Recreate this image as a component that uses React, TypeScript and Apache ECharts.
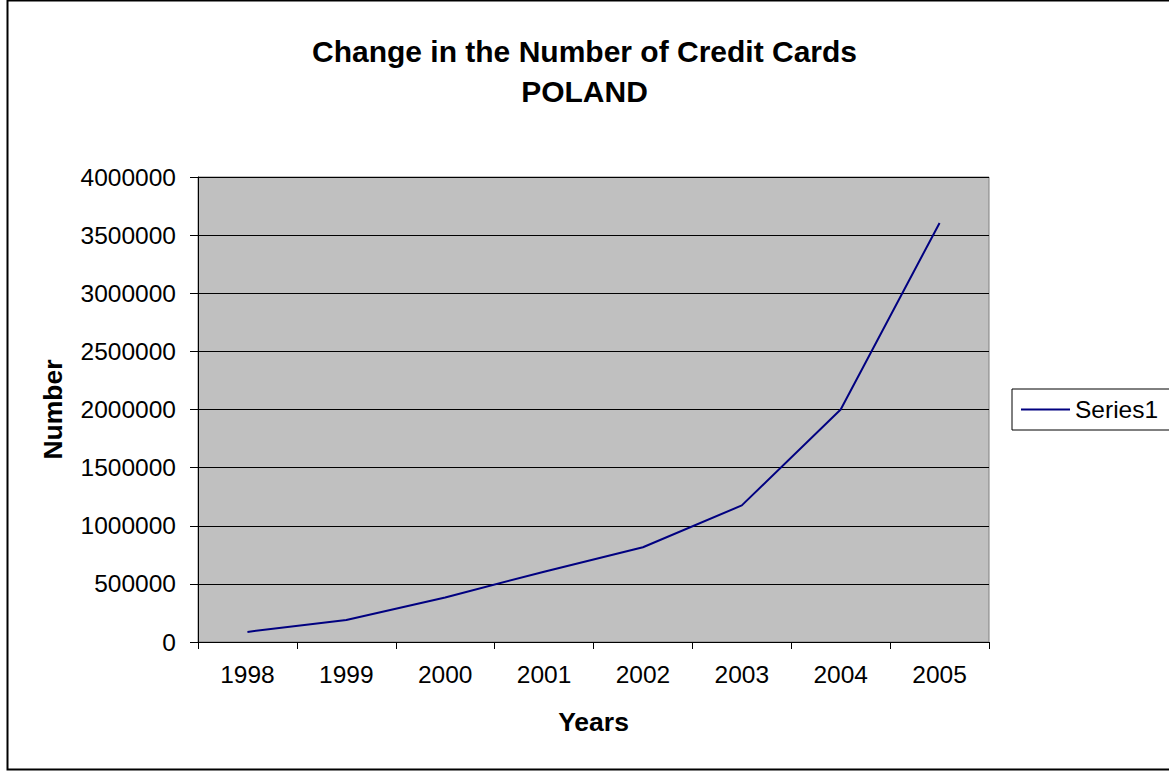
import React, { useEffect, useRef } from "react";
import * as echarts from "echarts";

const years = ["1998", "1999", "2000", "2001", "2002", "2003", "2004", "2005"];
const cards = [87000, 190000, 383000, 605000, 815000, 1175000, 2000000, 3605000];
const titleText = "Change in the Number of Credit Cards\nPOLAND";
const seriesName = "Series1";
const FONT = "'Liberation Sans', Arial, sans-serif";

export default function App() {
  const ref = useRef<HTMLDivElement>(null);
  useEffect(() => {
    if (!ref.current) return;
    const chart = echarts.init(ref.current, null, { renderer: "svg" });
    chart.setOption({
      animation: false,
      backgroundColor: "#ffffff",
      textStyle: { fontFamily: FONT },
      title: {
        text: titleText,
        left: "center",
        top: 31,
        padding: [0, 0, 0, 18],
        textStyle: { fontSize: 30, fontWeight: "bold", color: "#000", lineHeight: 40, fontFamily: FONT },
      },
      legend: {
        left: 1012,
        top: 389,
        orient: "vertical",
        padding: [6, 30, 6, 9],
        borderColor: "#000",
        borderWidth: 1,
        icon: "rect",
        itemWidth: 49,
        itemHeight: 2,
        itemGap: 0,
        textStyle: { fontSize: 24.5, color: "#000", lineHeight: 29, fontFamily: FONT },
        data: [seriesName],
      },
      grid: {
        left: 198,
        top: 177,
        width: 791,
        height: 465,
        show: true,
        backgroundColor: "#C0C0C0",
        borderColor: "#808080",
        borderWidth: 1,
      },
      xAxis: {
        type: "category",
        data: years,
        boundaryGap: true,
        name: "Years",
        nameLocation: "middle",
        nameGap: 66,
        nameTextStyle: { fontSize: 26.5, fontWeight: "bold", color: "#000", fontFamily: FONT },
        axisLine: { lineStyle: { color: "#000", width: 1 } },
        axisTick: { show: true, length: 7, lineStyle: { color: "#000" } },
        axisLabel: { fontSize: 24.5, color: "#000", margin: 20, fontFamily: FONT },
        splitLine: { show: false },
      },
      yAxis: {
        type: "value",
        min: 0,
        max: 4000000,
        interval: 500000,
        name: "Number",
        nameLocation: "middle",
        nameGap: 132,
        nameTextStyle: { fontSize: 26.5, fontWeight: "bold", color: "#000", fontFamily: FONT },
        axisLine: { show: true, lineStyle: { color: "#000", width: 1 } },
        axisTick: { show: true, length: 8, lineStyle: { color: "#000" } },
        axisLabel: {
          fontSize: 24.5,
          color: "#000",
          margin: 22,
          fontFamily: FONT,
          formatter: (v: number) => String(v),
        },
        splitLine: { show: true, lineStyle: { color: "#000", width: 1 } },
      },
      series: [
        {
          name: seriesName,
          type: "line",
          data: cards,
          symbol: "none",
          lineStyle: { color: "#000080", width: 2 },
          itemStyle: { color: "#000080" },
        },
      ],
      graphic: [
        {
          type: "rect",
          shape: { x: 7.5, y: 0.5, width: 1170, height: 769 },
          style: { fill: "none", stroke: "#000", lineWidth: 2 },
          silent: true,
        },
      ],
    });
    return () => chart.dispose();
  }, []);
  return (
    <div
      ref={ref}
      style={{ position: "absolute", left: 0, top: 0, width: 1169, height: 771 }}
    />
  );
}
